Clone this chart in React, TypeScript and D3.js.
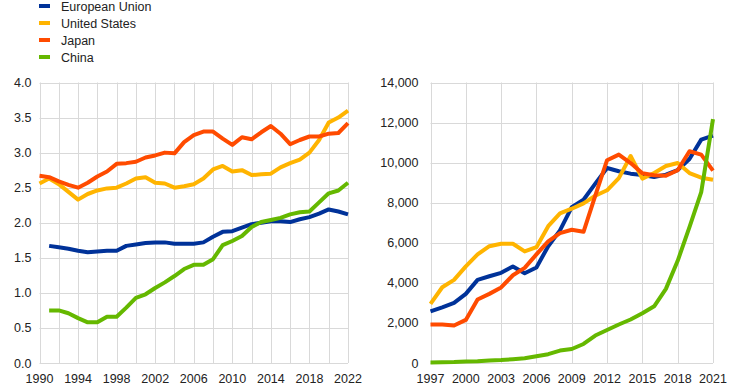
import * as d3 from "d3";
import { useEffect, useRef } from "react";

// left panel: 1990-2022
const leftYears = d3.range(1990, 2023);
const leftEU = [null, 1.67, 1.65, 1.63, 1.6, 1.58, 1.59, 1.6, 1.6, 1.67, 1.69, 1.71, 1.72, 1.72, 1.7, 1.7, 1.7, 1.72, 1.8, 1.87, 1.88, 1.93, 1.98, 2.0, 2.02, 2.02, 2.01, 2.05, 2.08, 2.13, 2.19, 2.16, 2.12];
const leftUS = [2.56, 2.63, 2.55, 2.44, 2.33, 2.41, 2.46, 2.49, 2.5, 2.56, 2.63, 2.65, 2.57, 2.56, 2.5, 2.52, 2.55, 2.63, 2.76, 2.81, 2.73, 2.75, 2.68, 2.69, 2.7, 2.79, 2.85, 2.9, 3.0, 3.18, 3.43, 3.5, 3.6];
const leftJP = [2.67, 2.65, 2.59, 2.54, 2.5, 2.57, 2.66, 2.73, 2.84, 2.85, 2.87, 2.93, 2.96, 3.0, 2.99, 3.15, 3.25, 3.3, 3.3, 3.2, 3.11, 3.22, 3.19, 3.29, 3.38, 3.27, 3.12, 3.18, 3.23, 3.23, 3.27, 3.28, 3.42];
const leftCN = [null, 0.75, 0.75, 0.71, 0.64, 0.58, 0.58, 0.66, 0.66, 0.79, 0.93, 0.98, 1.07, 1.15, 1.24, 1.34, 1.4, 1.4, 1.48, 1.68, 1.74, 1.81, 1.94, 2.01, 2.04, 2.07, 2.12, 2.15, 2.16, 2.29, 2.42, 2.46, 2.57];
const leftYTicks = [0, 0.5, 1, 1.5, 2, 2.5, 3, 3.5, 4];
const leftXTicks = [1990, 1994, 1998, 2002, 2006, 2010, 2014, 2018, 2022];

// right panel: 1997-2021
const rightYears = d3.range(1997, 2022);
const rightEU = [2580, 2780, 3000, 3450, 4150, 4330, 4500, 4820, 4480, 4770, 5830, 6620, 7780, 8150, 8950, 9730, 9570, 9450, 9380, 9280, 9400, 9630, 10180, 11150, 11350];
const rightUS = [2950, 3780, 4150, 4820, 5420, 5830, 5950, 5950, 5570, 5780, 6830, 7470, 7700, 7970, 8350, 8620, 9230, 10330, 9200, 9480, 9830, 9980, 9480, 9250, 9150];
const rightJP = [1920, 1920, 1870, 2150, 3170, 3450, 3770, 4380, 4750, 5420, 6070, 6480, 6650, 6550, 8350, 10120, 10400, 9980, 9470, 9370, 9350, 9620, 10570, 10400, 9600];
const rightCN = [30, 40, 50, 80, 90, 130, 150, 190, 240, 340, 440, 620, 700, 950, 1370, 1650, 1920, 2170, 2480, 2830, 3700, 5100, 6780, 8530, 12170];
const rightYTicks = [0, 2000, 4000, 6000, 8000, 10000, 12000, 14000];
const rightXTicks = [1997, 2000, 2003, 2006, 2009, 2012, 2015, 2018, 2021];

const seriesNames = ["European Union", "United States", "Japan", "China"];
const colors = ["#003299", "#FFB400", "#FF4B00", "#65B800"];

const W = 744;
const H = 390;
const FONT = "'Liberation Sans', Arial, sans-serif";

export default function App() {
  const svgRef = useRef<SVGSVGElement | null>(null);

  useEffect(() => {
    if (!svgRef.current) return;
    const svg = d3.select(svgRef.current);
    svg.selectAll("*").remove();

    const drawPanel = (
      years: number[],
      series: (number | null)[][],
      yMax: number,
      yTicks: number[],
      xTicks: number[],
      gridStep: number,
      left: number,
      right: number,
      labelGap: number,
      fmt: (v: number) => string
    ) => {
      const top = 82.5;
      const bottom = 363;
      const x = d3.scaleLinear().domain([years[0], years[years.length - 1]]).range([left, right]);
      const y = d3.scaleLinear().domain([0, yMax]).range([bottom, top]);
      const g = svg.append("g");

      // grid
      const vLines = d3.range(years[0], years[years.length - 1] + 1, gridStep);
      g.selectAll(".vg")
        .data(vLines)
        .enter()
        .append("line")
        .attr("x1", (d) => Math.round(x(d)) + 0.5)
        .attr("x2", (d) => Math.round(x(d)) + 0.5)
        .attr("y1", top)
        .attr("y2", bottom)
        .attr("stroke", "#d9d9d9")
        .attr("stroke-width", 1);
      g.selectAll(".hg")
        .data(yTicks)
        .enter()
        .append("line")
        .attr("x1", left)
        .attr("x2", right)
        .attr("y1", (d) => Math.round(y(d)) + 0.5)
        .attr("y2", (d) => Math.round(y(d)) + 0.5)
        .attr("stroke", "#d9d9d9")
        .attr("stroke-width", 1);

      // y labels
      g.selectAll(".yl")
        .data(yTicks)
        .enter()
        .append("text")
        .attr("x", left - labelGap)
        .attr("y", (d) => y(d) + 4.5)
        .attr("text-anchor", "end")
        .attr("font-family", FONT)
        .attr("font-size", "12.5px")
        .attr("fill", "#222")
        .text(fmt);

      // x labels
      g.selectAll(".xl")
        .data(xTicks)
        .enter()
        .append("text")
        .attr("x", (d) => x(d))
        .attr("y", 383)
        .attr("text-anchor", "middle")
        .attr("font-family", FONT)
        .attr("font-size", "12.5px")
        .attr("fill", "#222")
        .text((d) => String(d));

      // lines (EU, US, Japan, China stacking order)
      series.forEach((values, si) => {
        const line = d3
          .line<number | null>()
          .defined((d) => d !== null)
          .x((_, i) => x(years[i]))
          .y((d) => y(d as number));
        g.append("path")
          .datum(values)
          .attr("fill", "none")
          .attr("stroke", colors[si])
          .attr("stroke-width", 4)
          .attr("stroke-linejoin", "round")
          .attr("d", line);
      });
    };

    drawPanel(
      leftYears,
      [leftEU, leftUS, leftJP, leftCN],
      4,
      leftYTicks,
      leftXTicks,
      2,
      39.5,
      348,
      8,
      d3.format(".1f")
    );
    drawPanel(
      rightYears,
      [rightEU, rightUS, rightJP, rightCN],
      14000,
      rightYTicks,
      rightXTicks,
      3,
      430.5,
      713,
      12,
      d3.format(",")
    );

    // legend
    const legend = svg.append("g");
    seriesNames.forEach((name, i) => {
      const cy = 6 + i * 17;
      legend
        .append("rect")
        .attr("x", 39)
        .attr("y", cy - 2)
        .attr("width", 11)
        .attr("height", 4)
        .attr("fill", colors[i]);
      legend
        .append("text")
        .attr("x", 61)
        .attr("y", cy + 4.5)
        .attr("font-family", FONT)
        .attr("font-size", "12.5px")
        .attr("fill", "#222")
        .text(name);
    });
  }, []);

  return (
    <svg
      ref={svgRef}
      width={W}
      height={H}
      style={{ position: "absolute", left: 0, top: 0, background: "#fff" }}
    />
  );
}
